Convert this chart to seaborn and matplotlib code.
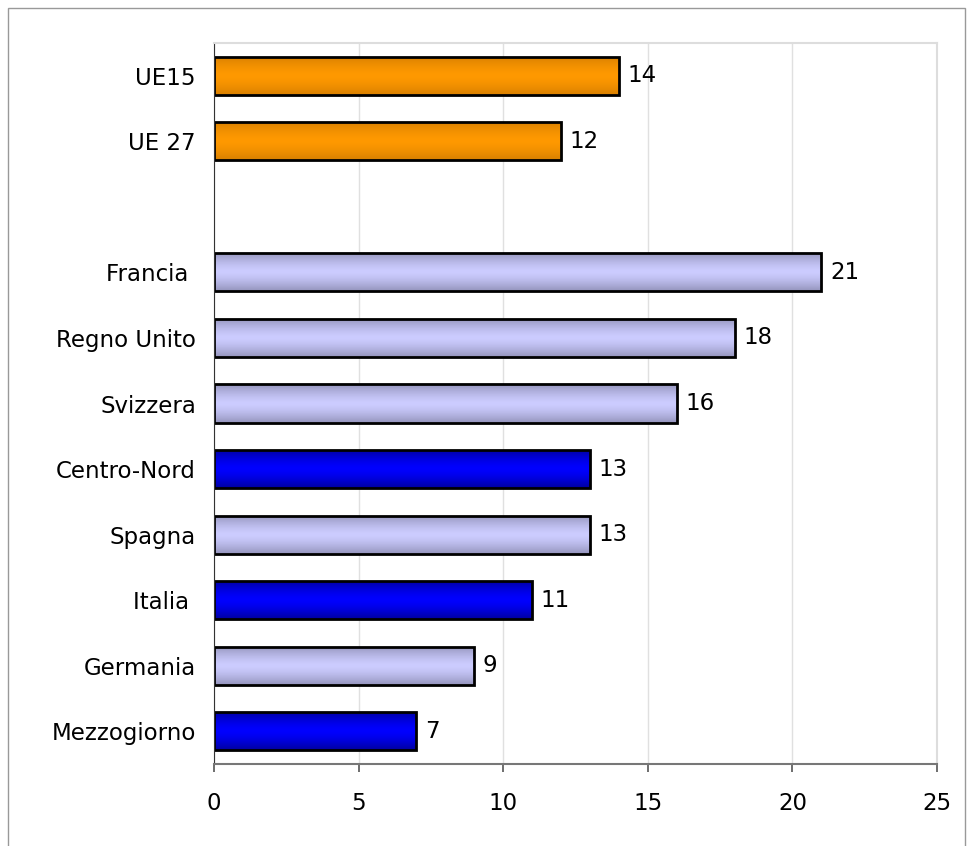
import numpy as np
import pandas as pd
import matplotlib
matplotlib.use("Agg")
import matplotlib.pyplot as plt
import seaborn as sns
from matplotlib.colors import to_rgb
from matplotlib.patches import Rectangle

# ----------------------------------------------------------------------
# Data
# ----------------------------------------------------------------------
categories = ["UE15", "UE 27", "", "Francia ", "Regno Unito", "Svizzera",
              "Centro-Nord", "Spagna", "Italia ", "Germania", "Mezzogiorno"]
values = [14, 12, np.nan, 21, 18, 16, 13, 13, 11, 9, 7]
groups = ["ue", "ue", "none", "paese", "paese", "paese", "italia", "paese",
          "italia", "paese", "italia"]

# (bordo scuro, centro chiaro) per il gradiente delle barre
group_colors = {
    "ue": ("#d98000", "#ff9900"),
    "paese": ("#9494bc", "#ccccff"),
    "italia": ("#0000a0", "#0000ff"),
    "none": ("#ffffff", "#ffffff"),
}

df = pd.DataFrame({"paese": categories, "valore": values})

# ----------------------------------------------------------------------
# Plot
# ----------------------------------------------------------------------
sns.set_style("white")
plt.rcParams["font.family"] = ["DejaVu Sans"]
plt.rcParams["text.color"] = "black"
plt.rcParams["xtick.color"] = "black"
plt.rcParams["ytick.color"] = "black"

FS = 16.5

fig = plt.figure(figsize=(9.73, 8.46), dpi=100)
ax = fig.add_axes([214 / 973, 1 - 764 / 846, (937 - 214) / 973, (764 - 43) / 846])

sns.barplot(data=df, y="paese", x="valore", orient="h", color="white",
            edgecolor="black", linewidth=2, width=0.58, errorbar=None, ax=ax)

# gradient fill inside each bar
for patch in ax.patches:
    w = patch.get_width()
    if not np.isfinite(w) or w == 0:
        continue
    y0 = patch.get_y()
    h = patch.get_height()
    idx = int(round(y0 + h / 2))
    dark, light = (np.array(to_rgb(c)) for c in group_colors[groups[idx]])
    t = np.abs(np.linspace(-1, 1, 64)) ** 1.5
    grad = (light[None, :] * (1 - t[:, None]) + dark[None, :] * t[:, None])
    img = ax.imshow(grad[:, None, :], extent=[0, w, y0 + h, y0], aspect="auto",
                    interpolation="bilinear", zorder=1.5, origin="upper")
    img.set_clip_path(patch)
    patch.set_facecolor("none")
    patch.set_zorder(2)
    ax.text(w + 0.3, y0 + h / 2, f"{w:g}", va="center", ha="left",
            fontsize=FS, color="black")

ax.set_xlim(0, 25)
ax.set_ylim(len(categories) - 0.5, -0.5)
ax.set_xticks([0, 5, 10, 15, 20, 25])
ax.set_xlabel("")
ax.set_ylabel("")
ax.xaxis.grid(True, color="#e0e0e0", linewidth=1)
ax.set_axisbelow(True)
ax.tick_params(axis="x", labelsize=FS, length=6, width=1.2, color="#555555",
               pad=14, direction="out", bottom=True)
ax.tick_params(axis="y", labelsize=FS, length=0, pad=13)

for side in ["top", "right"]:
    ax.spines[side].set_color("#dddddd")
    ax.spines[side].set_linewidth(1.5)
ax.spines["left"].set_color("#333333")
ax.spines["bottom"].set_color("#777777")
ax.spines["bottom"].set_linewidth(1.5)

# outer frame (bottom edge runs off the image)
fig.patches.append(Rectangle((8 / 973, -0.02), 957 / 973, 1 - 8 / 846 + 0.02,
                             transform=fig.transFigure, fill=False,
                             edgecolor="#999999", linewidth=1))

fig.savefig("out.png", dpi=100)
